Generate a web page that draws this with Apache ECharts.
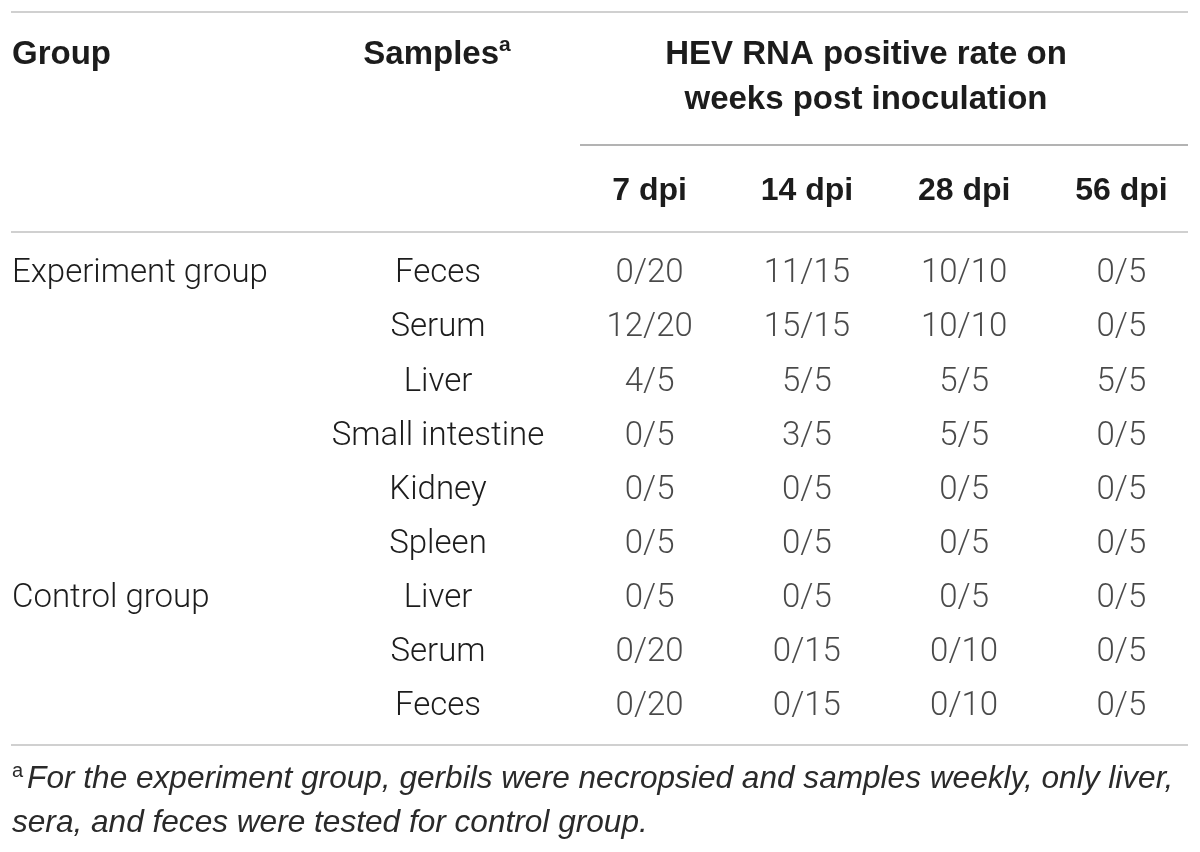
<!DOCTYPE html>
<html>
<head>
    <meta charset="utf-8">
    <title>HEV RNA positive rate</title>
    <script src="https://cdn.jsdelivr.net/npm/echarts@6/dist/echarts.min.js"></script>
    <style>
        html, body { margin: 0; padding: 0; background: #fff; }
        #container { width: 1200px; height: 852px; }
    </style>
</head>
<body>
<div id="container"></div>
<script>
    // table content
    var samples = ['Feces', 'Serum', 'Liver', 'Small intestine', 'Kidney', 'Spleen', 'Liver', 'Serum', 'Feces'];
    var groupLabels = ['Experiment group', '', '', '', '', '', 'Control group', '', ''];
    var dpiLabels = ['7 dpi', '14 dpi', '28 dpi', '56 dpi'];

    // positive / tested, one array per time point
    var pos7 = [0, 12, 4, 0, 0, 0, 0, 0, 0];
    var tot7 = [20, 20, 5, 5, 5, 5, 5, 20, 20];
    var pos14 = [11, 15, 5, 3, 0, 0, 0, 0, 0];
    var tot14 = [15, 15, 5, 5, 5, 5, 5, 15, 15];
    var pos28 = [10, 10, 5, 5, 0, 0, 0, 0, 0];
    var tot28 = [10, 10, 5, 5, 5, 5, 5, 10, 10];
    var pos56 = [0, 0, 5, 0, 0, 0, 0, 0, 0];
    var tot56 = [5, 5, 5, 5, 5, 5, 5, 5, 5];

    var footLine1 = 'For the experiment group, gerbils were necropsied and samples weekly, only liver,';
    var footLine2 = 'sera, and feces were tested for control group.';

    var FONT = 'Roboto';
    var BOLD = 'Liberation Sans';
    var TXT = '#1c1c1c';

    var positives = [pos7, pos14, pos28, pos56];
    var totals = [tot7, tot14, tot28, tot56];
    var cells = [];
    for (var c = 0; c < positives.length; c++) {
        for (var r = 0; r < samples.length; r++) {
            cells.push([c, r, positives[c][r], totals[c][r]]);
        }
    }

    var myChart = echarts.init(document.getElementById('container'));

    var bodyLabel = {
        fontFamily: FONT,
        fontSize: 33,
        fontWeight: 300,
        color: TXT
    };

    var option = {
        backgroundColor: '#fff',
        animation: false,
        textStyle: { fontFamily: FONT },
        grid: { left: 571, width: 648, top: 247, height: 487 },
        xAxis: {
            type: 'category',
            position: 'top',
            data: dpiLabels,
            axisLine: { show: false },
            axisTick: { show: false },
            splitLine: { show: false },
            axisLabel: {
                interval: 0,
                margin: 56,
                verticalAlign: 'middle',
                fontFamily: BOLD,
                fontSize: 32,
                fontWeight: 'bold',
                color: TXT
            }
        },
        yAxis: [{
            type: 'category',
            inverse: true,
            data: samples,
            axisLine: { show: false },
            axisTick: { show: false },
            splitLine: { show: false },
            axisLabel: echarts.util.extend({
                interval: 0,
                align: 'center',
                margin: 133
            }, bodyLabel)
        }, {
            type: 'category',
            position: 'left',
            inverse: true,
            data: samples,
            axisLine: { show: false },
            axisTick: { show: false },
            splitLine: { show: false },
            axisLabel: echarts.util.extend({
                interval: 0,
                align: 'left',
                margin: 559,
                formatter: function (value, index) {
                    return groupLabels[index];
                }
            }, bodyLabel)
        }],
        series: [{
            type: 'scatter',
            silent: true,
            symbolSize: 0,
            data: cells,
            label: echarts.util.extend({
                show: true,
                position: 'inside',
                formatter: function (p) {
                    return p.data[2] + '/' + p.data[3];
                }
            }, bodyLabel)
        }],
        graphic: [
            // rules
            { type: 'line', shape: { x1: 11, y1: 12, x2: 1188, y2: 12 }, style: { stroke: '#d0d0d0', lineWidth: 2 } },
            { type: 'line', shape: { x1: 580, y1: 145, x2: 1188, y2: 145 }, style: { stroke: '#9a9a9a', lineWidth: 1.5 } },
            { type: 'line', shape: { x1: 11, y1: 232, x2: 1188, y2: 232 }, style: { stroke: '#d0d0d0', lineWidth: 2 } },
            { type: 'line', shape: { x1: 11, y1: 745, x2: 1188, y2: 745 }, style: { stroke: '#d0d0d0', lineWidth: 2 } },
            // header texts
            {
                type: 'text', x: 12, y: 55,
                style: { text: 'Group', font: 'bold 33px "' + BOLD + '"', fill: TXT, textVerticalAlign: 'middle' }
            },
            {
                type: 'text', x: 437, y: 55,
                style: {
                    text: '{b|Samples}{s|a}',
                    textAlign: 'center', textVerticalAlign: 'middle',
                    rich: {
                        b: { fontFamily: BOLD, fontSize: 33, fontWeight: 'bold', fill: TXT, lineHeight: 40 },
                        s: { fontFamily: BOLD, fontSize: 21, fontWeight: 'bold', fill: TXT, verticalAlign: 'top', lineHeight: 22 }
                    }
                }
            },
            {
                type: 'text', x: 866, y: 77,
                style: {
                    text: 'HEV RNA positive rate on\nweeks post inoculation',
                    font: 'bold 33px "' + BOLD + '"', fill: TXT,
                    textAlign: 'center', textVerticalAlign: 'middle', lineHeight: 45
                }
            },
            // footnote
            {
                type: 'text', x: 12, y: 779,
                style: {
                    text: '{s|a}{i|' + footLine1 + '}',
                    textVerticalAlign: 'middle',
                    rich: {
                        s: { fontFamily: BOLD, fontSize: 20, fill: '#2a2a2a', verticalAlign: 'top', lineHeight: 22, padding: [0, 4, 0, 0] },
                        i: { fontFamily: BOLD, fontSize: 31.6, fontStyle: 'italic', fill: '#2a2a2a', lineHeight: 36 }
                    }
                }
            },
            {
                type: 'text', x: 12, y: 823,
                style: { text: footLine2, font: 'italic 31.6px "' + BOLD + '"', fill: '#2a2a2a', textVerticalAlign: 'middle' }
            }
        ]
    };

    myChart.setOption(option);
</script>
</body>
</html>
